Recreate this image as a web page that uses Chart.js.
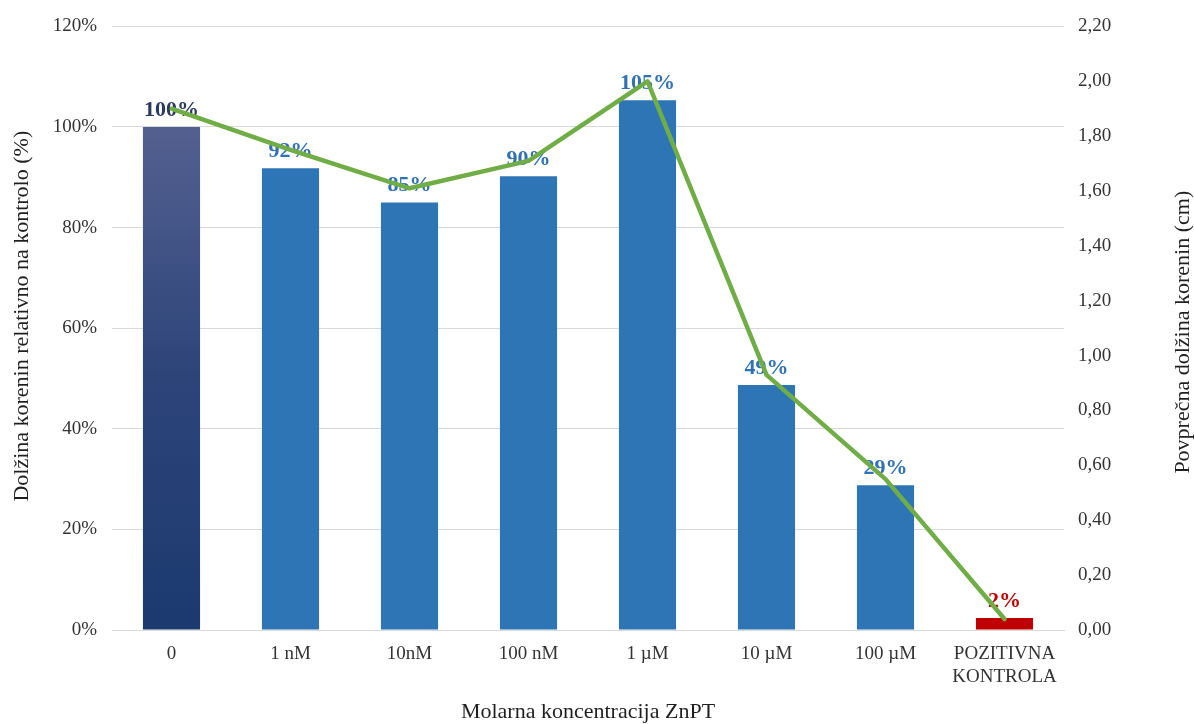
<!DOCTYPE html>
<html>
<head>
<meta charset="utf-8">
<script src="https://cdn.jsdelivr.net/npm/chart.js@4/dist/chart.umd.min.js"></script>
<style>
  html, body { margin: 0; padding: 0; background: #ffffff; }
  #wrap { width: 1194px; height: 724px; position: relative; }
</style>
</head>
<body>
<div id="wrap"><canvas id="c" width="1194" height="724"></canvas></div>
<script>
// Concentrations of ZnPT (x categories)
const categories = ['0', '1 nM', '10nM', '100 nM', '1 \u00b5M', '10 \u00b5M', '100 \u00b5M', ['POZITIVNA', 'KONTROLA']];
// Root length relative to control (%)
const relativeLength = [100, 91.8, 85.0, 90.2, 105.3, 48.7, 28.8, 2.4];
// Mean root length (cm)
const meanLength = [1.90, 1.75, 1.61, 1.71, 2.00, 0.93, 0.55, 0.04];
// Axis ranges
const leftTicks = { min: 0, max: 120, step: 20 };
const rightTicks = { min: 0, max: 2.2, step: 0.2 };

const leftTitle = 'Dol\u017eina korenin relativno na kontrolo (%)';
const rightTitle = 'Povpre\u010dna dol\u017eina korenin (cm)';
const bottomTitle = 'Molarna koncentracija ZnPT';

const SERIF = "'Liberation Serif', 'Times New Roman', serif";
const BAR_BLUE = '#2e75b6';
const BAR_RED = '#c00000';
const LINE_GREEN = '#70ad47';
const TEXT = '#333333';

function barColor(ctx) {
  const i = ctx.dataIndex;
  if (i === relativeLength.length - 1) return BAR_RED;
  if (i === 0) {
    const chart = ctx.chart;
    const y = chart.scales && chart.scales.y;
    if (!chart.chartArea || !y) return '#2f4a7c';
    const top = y.getPixelForValue(relativeLength[0]);
    const bottom = y.getPixelForValue(0);
    const g = chart.ctx.createLinearGradient(0, top, 0, bottom);
    g.addColorStop(0, '#536090');
    g.addColorStop(0.5, '#2d4479');
    g.addColorStop(1, '#1b3a6f');
    return g;
  }
  return BAR_BLUE;
}

function labelColor(i) {
  if (i === 0) return '#2c3a5e';
  if (i === relativeLength.length - 1) return BAR_RED;
  return '#3272b2';
}

// Percentage labels above the bars (drawn before the line so it passes over them)
const barLabels = {
  id: 'barLabels',
  afterDatasetDraw(chart, args) {
    if (args.index !== 0) return;
    const ctx = chart.ctx;
    const meta = chart.getDatasetMeta(0);
    ctx.save();
    ctx.font = 'bold 22px ' + SERIF;
    ctx.textAlign = 'center';
    ctx.textBaseline = 'alphabetic';
    meta.data.forEach((bar, i) => {
      ctx.fillStyle = labelColor(i);
      ctx.fillText(Math.round(relativeLength[i]) + '%', bar.x, bar.y - 11);
    });
    ctx.restore();
  }
};

// Axis titles (right one reads bottom-to-top like the left one)
const axisTitles = {
  id: 'axisTitles',
  afterDraw(chart) {
    const ctx = chart.ctx;
    const a = chart.chartArea;
    const midY = (a.top + a.bottom) / 2;
    ctx.save();
    ctx.fillStyle = '#1f1f1f';
    ctx.font = '22px ' + SERIF;
    ctx.textAlign = 'center';
    ctx.textBaseline = 'middle';

    ctx.save();
    ctx.translate(22, midY - 12);
    ctx.rotate(-Math.PI / 2);
    ctx.fillText(leftTitle, 0, 0);
    ctx.restore();

    ctx.save();
    ctx.translate(1183, midY + 4);
    ctx.rotate(-Math.PI / 2);
    ctx.fillText(rightTitle, 0, 0);
    ctx.restore();

    ctx.fillText(bottomTitle, (a.left + a.right) / 2, 712);
    ctx.restore();
  }
};

new Chart(document.getElementById('c'), {
  data: {
    labels: categories,
    datasets: [
      {
        type: 'bar',
        label: 'Relativna dol\u017eina',
        data: relativeLength,
        yAxisID: 'y',
        backgroundColor: barColor,
        borderWidth: 0,
        barPercentage: 0.48,
        categoryPercentage: 1.0,
        order: 2
      },
      {
        type: 'line',
        label: 'Povpre\u010dna dol\u017eina',
        data: meanLength,
        yAxisID: 'y1',
        borderColor: LINE_GREEN,
        borderWidth: 4.5,
        pointRadius: 0,
        tension: 0,
        fill: false,
        borderJoinStyle: 'round',
        borderCapStyle: 'round',
        order: 1
      }
    ]
  },
  options: {
    responsive: false,
    animation: false,
    events: [],
    layout: { padding: { top: 24, right: 0, bottom: 0, left: 0 } },
    plugins: {
      legend: { display: false },
      tooltip: { enabled: false },
      title: { display: false }
    },
    scales: {
      x: {
        type: 'category',
        offset: true,
        grid: { display: false, drawTicks: false },
        border: { display: true, color: '#d9d9d9', width: 1 },
        ticks: {
          color: TEXT,
          font: { family: SERIF, size: 19 },
          padding: 13,
          maxRotation: 0,
          autoSkip: false
        },
        afterFit(scale) { scale.height = 94; }
      },
      y: {
        position: 'left',
        min: leftTicks.min,
        max: leftTicks.max,
        grid: { color: '#d9d9d9', lineWidth: 1, drawTicks: false },
        border: { display: false },
        ticks: {
          stepSize: leftTicks.step,
          color: TEXT,
          padding: 15,
          font: { family: SERIF, size: 19 },
          callback: (v) => v + '%'
        },
        afterFit(scale) { scale.width = 112; }
      },
      y1: {
        position: 'right',
        min: rightTicks.min,
        max: rightTicks.max,
        grid: { display: false, drawTicks: false },
        border: { display: false },
        ticks: {
          stepSize: rightTicks.step,
          color: TEXT,
          padding: 14,
          font: { family: SERIF, size: 19 },
          callback: (v) => Number(v).toFixed(2).replace('.', ',')
        },
        afterFit(scale) { scale.width = 130; }
      }
    }
  },
  plugins: [barLabels, axisTitles]
});
</script>
</body>
</html>
